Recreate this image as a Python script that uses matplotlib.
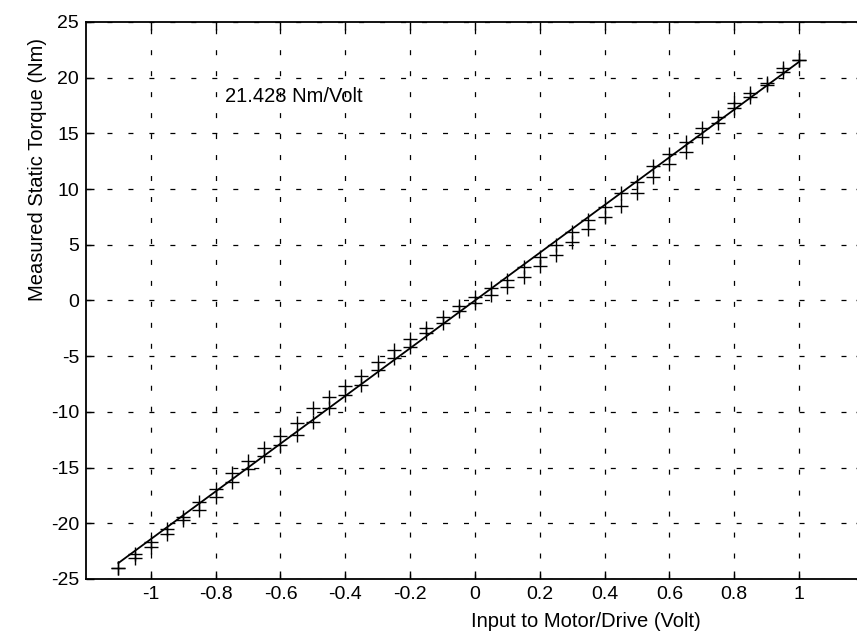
import matplotlib
matplotlib.use("Agg")
import matplotlib.pyplot as plt
from matplotlib.ticker import FuncFormatter

plt.rcParams["font.family"] = ["Liberation Sans", "DejaVu Sans"]
plt.rcParams["axes.unicode_minus"] = False
plt.rcParams["lines.scale_dashes"] = False

# input voltage steps, and the torque read on the way up / on the way down
input_volt = [
    -1.1, -1.05, -1.0, -0.95, -0.9, -0.85, -0.8, -0.75, -0.7, -0.65, -0.6,
    -0.55, -0.5, -0.45, -0.4, -0.35, -0.3, -0.25, -0.2, -0.15, -0.1, -0.05,
    0.0, 0.05, 0.1, 0.15, 0.2, 0.25, 0.3, 0.35, 0.4, 0.45, 0.5, 0.55, 0.6,
    0.65, 0.7, 0.75, 0.8, 0.85, 0.9, 0.95, 1.0,
]
torque_a = [
    -24.0, -22.8, -21.65, -20.5, -19.4, -18.05, -16.9, -15.5, -14.4, -13.27, -12.2,
    -10.97, -9.68, -8.7, -7.68, -6.78, -5.5, -4.44, -3.48, -2.5, -1.45, -0.5,
    0.34, 1.1, 1.84, 3.03, 3.93, 4.98, 6.18, 7.22, 8.42, 9.62, 10.66, 12.1, 13.15,
    14.26, 15.46, 16.5, 17.7, 18.65, 19.55, 20.84, 21.6,
]
torque_b = [
    -24.0, -23.1, -22.1, -21.0, -19.7, -18.8, -17.6, -16.3, -15.1, -14.0, -12.97,
    -12.07, -10.88, -9.68, -8.48, -7.58, -6.24, -5.19, -4.15, -2.95, -2.0, -0.95,
    -0.25, 0.49, 1.18, 2.14, 3.13, 4.08, 5.28, 6.39, 7.52, 8.48, 9.67, 11.11, 12.25,
    13.36, 14.7, 15.9, 17.25, 18.24, 19.35, 20.54, 21.6,
]

slope = 21.428  # Nm/Volt
fit_x = [-1.1, 1.0]
fit_y = [slope * v for v in fit_x]

x_ticks = [-1, -0.8, -0.6, -0.4, -0.2, 0, 0.2, 0.4, 0.6, 0.8, 1]
y_ticks = [-25, -20, -15, -10, -5, 0, 5, 10, 15, 20, 25]

fig = plt.figure(figsize=(8.57, 6.34), dpi=100)
ax = fig.add_axes([0.1003, 0.0868, 0.9078, 0.8785])

ax.plot(input_volt, torque_a, "+", color="black", markersize=10.5, markeredgewidth=1.0)
ax.plot(input_volt, torque_b, "+", color="black", markersize=10.5, markeredgewidth=1.0)
ax.plot(fit_x, fit_y, "-", color="black", linewidth=1.3)

ax.set_xlim(-1.2, 1.2)
ax.set_ylim(-25, 25)
ax.set_xticks(x_ticks)
ax.set_yticks(y_ticks)
ax.xaxis.set_major_formatter(FuncFormatter(lambda v, p: f"{v:g}"))
ax.yaxis.set_major_formatter(FuncFormatter(lambda v, p: f"{v:g}"))
ax.tick_params(direction="in", length=6, width=1, labelsize=14, pad=5,
               top=True, right=True, colors="black")

ax.grid(True, color="black", linewidth=0.9, linestyle=(0, (3.6, 11.5)))
for s in ax.spines.values():
    s.set_linewidth(1.3)

ax.text(-0.77, 18.3, "21.428 Nm/Volt", ha="left", va="center", fontsize=14.5)

ax.set_xlabel("Input to Motor/Drive (Volt)", fontsize=14.5, va="center")
ax.xaxis.set_label_coords(0.643, -0.0767)
ax.set_ylabel("Measured Static Torque (Nm)", fontsize=14.5, va="center")
ax.yaxis.set_label_coords(-0.0617, 0.736)

fig.savefig("out.png", dpi=100)
